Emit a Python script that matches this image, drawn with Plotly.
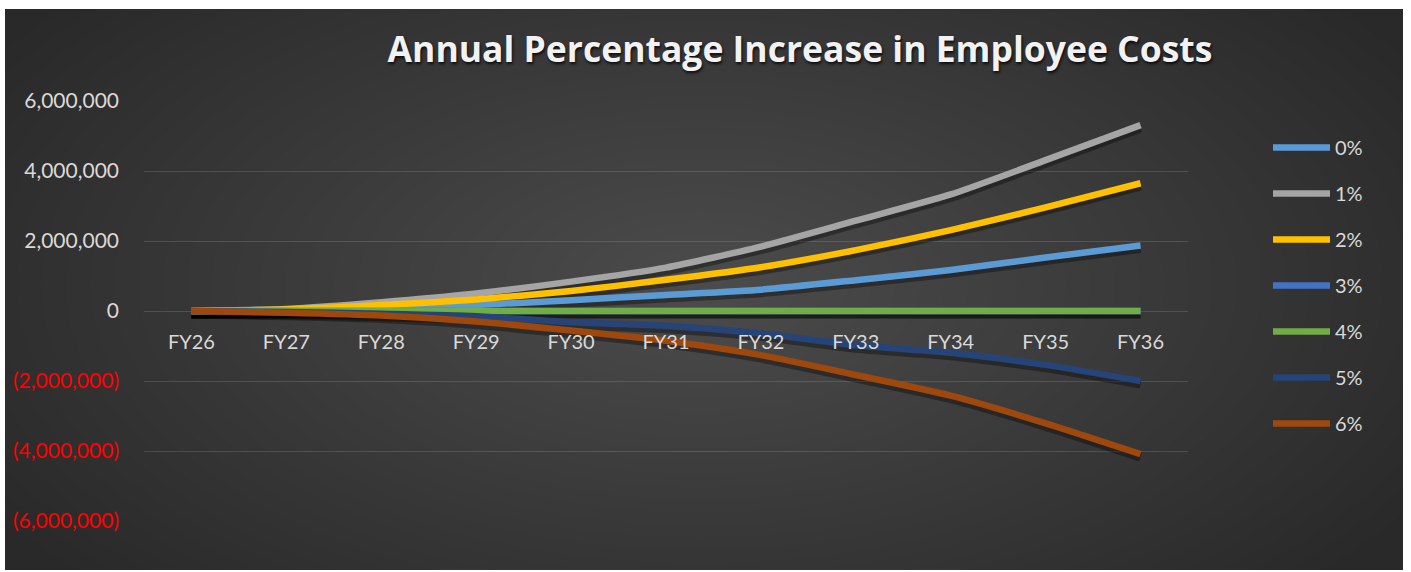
import plotly.graph_objects as go

# ---- data -------------------------------------------------------------
years = ["FY26", "FY27", "FY28", "FY29", "FY30", "FY31",
         "FY32", "FY33", "FY34", "FY35", "FY36"]

rate_0 = [0, 20000, 70000, 170000, 310000, 460000, 610000, 880000, 1170000, 1530000, 1870000]
rate_1 = [0, 60000, 250000, 500000, 840000, 1240000, 1840000, 2580000, 3330000, 4310000, 5310000]
rate_2 = [0, 40000, 170000, 330000, 570000, 890000, 1250000, 1740000, 2310000, 2960000, 3650000]
rate_3 = [0, 0, 0, 0, 0, 0, 0, 0, 0, 0, 0]
rate_4 = [0, 0, 0, 0, 0, 0, 0, 0, 0, 0, 0]
rate_5 = [0, -30000, -80000, -150000, -320000, -420000, -640000, -980000, -1190000, -1540000, -2000000]
rate_6 = [0, -50000, -130000, -300000, -560000, -850000, -1260000, -1830000, -2420000, -3210000, -4090000]

series_names = ["0%", "1%", "2%", "3%", "4%", "5%", "6%"]
series_values = [rate_0, rate_1, rate_2, rate_3, rate_4, rate_5, rate_6]
series_colors = ["#5B9BD5", "#A5A5A5", "#FFC000", "#4472C4", "#70AD47", "#264478", "#9E480E"]

y_ticks = [6000000, 4000000, 2000000, 0, -2000000, -4000000, -6000000]

# ---- geometry (pixels) ---------------------------------------------------
W, H = 1411, 572
PL, PR, PT, PB = 144, 1188, 101, 521           # plot area edges
Y_MIN, Y_MAX = -6000000, 6000000
PX_PER_UNIT = (PB - PT) / (Y_MAX - Y_MIN)
SHADOW_PX = 3


def px_x(x):
    return (x - PL) / (PR - PL)


def px_y(y):
    return (PB - y) / (PB - PT)


def tick_text(v):
    if v < 0:
        return "<span style='color:#FF0000'>(" + f"{-v:,.0f}" + ")</span>"
    return f"{v:,.0f}"


fig = go.Figure()

# the base axes carry the tick labels and gridlines; this keeps them rendered
fig.add_trace(go.Scatter(
    x=years, y=rate_4, mode="lines", line=dict(width=0, color="rgba(0,0,0,0)"),
    hoverinfo="skip", showlegend=False,
))

# soft drop shadows under the lines (drawn on a slightly offset overlay axis)
for vals in series_values:
    fig.add_trace(go.Scatter(
        x=years, y=vals, mode="lines", yaxis="y2",
        line=dict(color="rgba(0,0,0,0.35)", width=9, shape="spline", smoothing=0.6),
        hoverinfo="skip", showlegend=False,
    ))

for name, vals, col in zip(series_names, series_values, series_colors):
    fig.add_trace(go.Scatter(
        x=years, y=vals, mode="lines", name=name, legendgroup=name, yaxis="y3",
        line=dict(color=col, width=6.5, shape="spline", smoothing=0.6),
    ))

# dark panel with a radial glow toward the centre
shapes = [dict(type="rect", xref="paper", yref="paper", layer="below",
               x0=px_x(5), x1=px_x(1403), y0=px_y(570), y1=px_y(9),
               fillcolor="#292929", line=dict(width=0))]
cx, cy = 700, 285
steps = 34
for i in range(steps):
    f = 1 - i / steps
    rx, ry = 830 * f, 430 * f
    shapes.append(dict(type="circle", xref="paper", yref="paper", layer="below",
                       x0=px_x(cx - rx), x1=px_x(cx + rx),
                       y0=px_y(cy + ry), y1=px_y(cy - ry),
                       fillcolor="rgba(255,255,255,0.0068)", line=dict(width=0)))

shadow_shift = SHADOW_PX / PX_PER_UNIT

fig.update_layout(
    width=W, height=H,
    margin=dict(l=PL, r=W - PR, t=PT, b=H - PB, pad=0),
    paper_bgcolor="#FFFFFF",
    plot_bgcolor="rgba(0,0,0,0)",
    font=dict(family="Lato", color="#D9D9D9", size=20),
    title=dict(
        text="<b>Annual Percentage Increase in Employee Costs</b>",
        x=800 / W, xanchor="center", y=1 - 50 / H, yanchor="middle",
        font=dict(family="Open Sans", size=35.5, color="#F2F2F2",
                  shadow="1px 2px 3px rgba(0,0,0,0.8)"),
    ),
    xaxis=dict(
        type="category", range=[-0.5, len(years) - 0.5],
        showgrid=False, zeroline=False, showline=False,
        anchor="free", position=0.5,
        ticks="", ticklabelstandoff=17,
        tickfont=dict(family="Lato", size=20, color="#D9D9D9"),
    ),
    yaxis=dict(
        range=[Y_MIN, Y_MAX], tickvals=y_ticks,
        ticktext=[tick_text(v) for v in y_ticks],
        showgrid=True, gridcolor="rgba(255,255,255,0.13)", gridwidth=1.3,
        zeroline=False, showline=False, ticks="",
        ticklabelstandoff=24,
        tickfont=dict(family="Lato", size=21, color="#D9D9D9"),
    ),
    yaxis2=dict(
        range=[Y_MIN + shadow_shift, Y_MAX + shadow_shift],
        overlaying="y", visible=False,
    ),
    yaxis3=dict(
        range=[Y_MIN, Y_MAX], overlaying="y", visible=False,
    ),
    legend=dict(
        x=px_x(1268), xanchor="left", y=px_y(128), yanchor="top",
        bgcolor="rgba(0,0,0,0)", font=dict(family="Lato", size=20, color="#D9D9D9"),
        tracegroupgap=17, itemwidth=57,
    ),
    shapes=shapes,
    showlegend=True,
)

fig.write_html("out.html")
